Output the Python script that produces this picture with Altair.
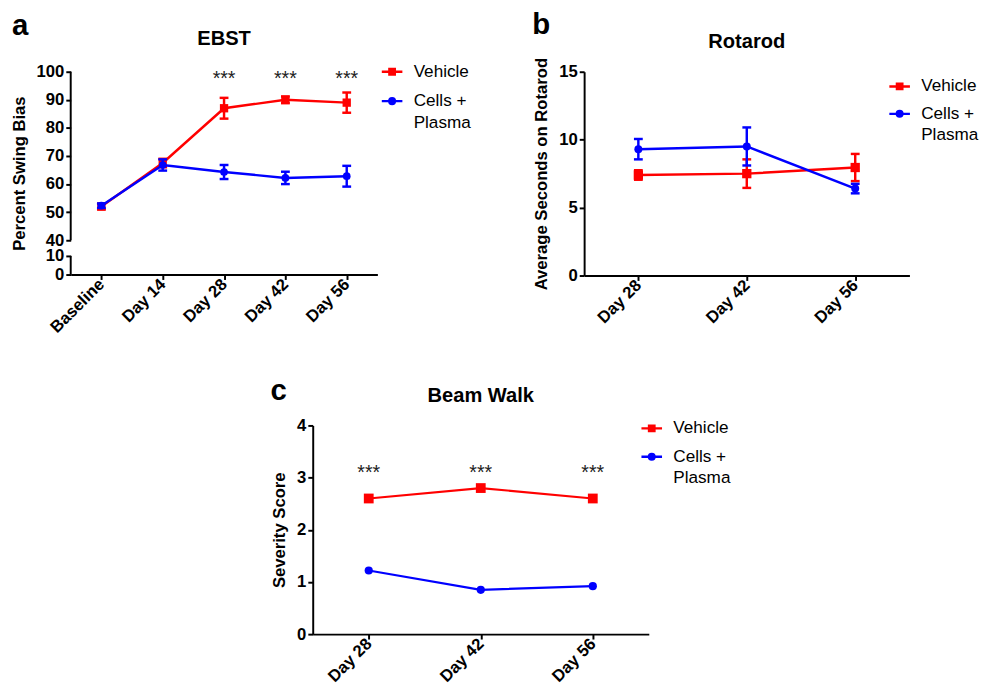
import altair as alt
import pandas as pd

# ---------------- data ----------------
series_names = ["Vehicle", "Cells + Plasma"]
series_colors = ["#ff0000", "#0000ff"]

ebst_days = ["Baseline", "Day 14", "Day 28", "Day 42", "Day 56"]
ebst_vehicle = [52.0, 67.5, 87.0, 90.0, 89.0]
ebst_vehicle_err = [1.0, 1.5, 3.7, 1.2, 3.6]
ebst_cells = [52.3, 66.8, 64.3, 62.2, 62.8]
ebst_cells_err = [0.8, 2.0, 2.5, 2.2, 3.7]
ebst_star_days = ["Day 28", "Day 42", "Day 56"]
ebst_star_level = [98.5, 98.5, 98.5]
ebst_ticks = [0, 10, 40, 50, 60, 70, 80, 90, 100]
ebst_axis_lo = [0, 40]
ebst_axis_hi = [10, 100]

rot_days = ["Day 28", "Day 42", "Day 56"]
rot_vehicle = [7.4, 7.5, 7.95]
rot_vehicle_err = [0.35, 1.05, 1.0]
rot_cells = [9.3, 9.5, 6.4]
rot_cells_err = [0.75, 1.4, 0.35]
rot_ticks = [0, 5, 10, 15]

beam_days = ["Day 28", "Day 42", "Day 56"]
beam_vehicle = [2.6, 2.8, 2.6]
beam_cells = [1.22, 0.85, 0.92]
beam_star_days = ["Day 28", "Day 42", "Day 56"]
beam_star_level = [3.16, 3.16, 3.16]
beam_ticks = [0, 1, 2, 3, 4]

# ---------------- styling ----------------
FONT = "Liberation Sans"
RED, BLUE = series_colors
color_scale = alt.Scale(domain=series_names, range=series_colors)

SQ_PATH = "M-1,0H1M-0.26,-0.26H0.26V0.26H-0.26Z"
CI_PATH = "M-1,0H1M0.27,0A0.27,0.27,0,1,1,-0.27,0A0.27,0.27,0,1,1,0.27,0Z"
shape_scale = alt.Scale(domain=series_names, range=[SQ_PATH, CI_PATH])


def make_legend(lx, ly, row_pad):
    return alt.Legend(
        orient="none", legendX=lx, legendY=ly, title=None,
        labelFont=FONT, labelFontSize=17.5, labelColor="black",
        labelOffset=10, labelLimit=0, rowPadding=row_pad,
        symbolSize=441, symbolStrokeWidth=2.5, symbolOpacity=1,
        labelExpr="datum.value == 'Cells + Plasma' ? ['Cells +', 'Plasma'] : datum.label",
    )


def series_df(days, name, vals, errs=None):
    d = pd.DataFrame({"day": days, "series": name, "mean": vals})
    if errs is not None:
        d["lo"] = [v - e for v, e in zip(vals, errs)]
        d["hi"] = [v + e for v, e in zip(vals, errs)]
    return d


def build_panel(days, series, yscale, ytitle, yticks, width, height, title,
                title_y, letter, letter_pos, legend, star_days, star_level,
                line_w, y_domain=True, segments=None):
    xsc = alt.Scale(type="point", padding=0.5, domain=days)
    xaxis = alt.Axis(title=None, labelAngle=315, labelAlign="right", labelBaseline="middle")
    yaxis = alt.Axis(title=ytitle, values=yticks, domain=y_domain, labelOverlap=False)

    def xenc():
        return alt.X("day:N", sort=days, scale=xsc, axis=xaxis)

    def yenc(field):
        return alt.Y(f"{field}:Q", scale=yscale, axis=yaxis)

    layers = []
    for df, color, shape, size in series:
        base = alt.Chart(df)
        layers.append(base.mark_line(strokeWidth=line_w, color=color).encode(
            x=xenc(), y=yenc("mean")))
        if "lo" in df.columns:
            layers.append(base.mark_rule(strokeWidth=2.5, color=color).encode(
                x=xenc(), y=yenc("lo"), y2="hi"))
            for f in ("lo", "hi"):
                layers.append(base.mark_tick(size=9, thickness=2.5, orient="horizontal",
                                             opacity=1, color=color).encode(
                    x=xenc(), y=yenc(f)))
        layers.append(base.mark_point(filled=True, opacity=1, shape=shape, size=size,
                                      color=color).encode(x=xenc(), y=yenc("mean")))

    if star_days:
        stars = pd.DataFrame({"day": star_days, "level": star_level})
        layers.append(alt.Chart(stars).mark_text(
            text="***", font=FONT, fontSize=20, color="#222222", baseline="middle", dy=3.5
        ).encode(x=xenc(), y=yenc("level")))

    if segments is not None:
        layers.append(alt.Chart(segments).mark_rule(color="black", strokeWidth=2).encode(
            x=alt.value(0), y=yenc("lo"), y2="hi"))

    # legend-only layer (its rows are filtered out): line+marker symbols
    leg_df = pd.DataFrame({"series": series_names})
    layers.append(alt.Chart(leg_df).transform_filter("false").mark_point(
        filled=True, opacity=1, strokeWidth=2.5).encode(
        fill=alt.Fill("series:N", scale=color_scale, legend=legend),
        stroke=alt.Stroke("series:N", scale=color_scale, legend=legend),
        shape=alt.Shape("series:N", scale=shape_scale, legend=legend)))

    one = pd.DataFrame({"k": [0]})
    layers.append(alt.Chart(one).mark_text(
        text=letter, font=FONT, fontSize=30, fontWeight="bold", color="black",
        align="left", baseline="alphabetic"
    ).encode(x=alt.value(letter_pos[0]), y=alt.value(letter_pos[1])))
    layers.append(alt.Chart(one).mark_text(
        text=title, font=FONT, fontSize=20.5, fontWeight="bold", color="black",
        align="center", baseline="alphabetic"
    ).encode(x=alt.value(width / 2), y=alt.value(title_y)))

    return alt.layer(*layers).properties(width=width, height=height)


# ---------------- panel a ----------------
ebst_series = [
    (series_df(ebst_days, "Vehicle", ebst_vehicle, ebst_vehicle_err), RED, "square", 72),
    (series_df(ebst_days, "Cells + Plasma", ebst_cells, ebst_cells_err), BLUE, "circle", 62),
]
ebst_segments = pd.DataFrame({"lo": ebst_axis_lo, "hi": ebst_axis_hi})
panel_a = build_panel(
    ebst_days, ebst_series,
    alt.Scale(domain=[0, 10, 40, 100], range=[207, 188, 172, 0], nice=False, zero=False),
    "Percent Swing Bias", ebst_ticks, 313, 207, "EBST", -27, "a", (-60, -37),
    make_legend(316, -12, 9), ebst_star_days, ebst_star_level, 2.5,
    y_domain=False, segments=ebst_segments)

# ---------------- panel b ----------------
rot_series = [
    (series_df(rot_days, "Vehicle", rot_vehicle, rot_vehicle_err), RED, "square", 90),
    (series_df(rot_days, "Cells + Plasma", rot_cells, rot_cells_err), BLUE, "circle", 66),
]
panel_b = build_panel(
    rot_days, rot_series,
    alt.Scale(domain=[0, 15], nice=False, zero=False),
    "Average Seconds on Rotarod", rot_ticks, 332, 208, "Rotarod", -24, "b", (-53, -39),
    make_legend(310, 3, 7), [], [], 2.5)

# ---------------- panel c ----------------
beam_series = [
    (series_df(beam_days, "Vehicle", beam_vehicle), RED, "square", 100),
    (series_df(beam_days, "Cells + Plasma", beam_cells), BLUE, "circle", 70),
]
panel_c = build_panel(
    beam_days, beam_series,
    alt.Scale(domain=[0, 4], nice=False, zero=False),
    "Severity Score", beam_ticks, 343, 213, "Beam Walk", -24, "c", (-43, -26),
    make_legend(334, -9, 8), beam_star_days, beam_star_level, 2.2)

spacer = alt.Chart(pd.DataFrame({"k": [0]})).mark_point(opacity=0).encode(
    x=alt.value(0), y=alt.value(0)).properties(width=204, height=10)

IND = dict(fill="independent", stroke="independent", shape="independent")

top = alt.hconcat(panel_a, panel_b, spacing=62).resolve_scale(**IND).resolve_legend(**IND)
bottom = alt.hconcat(spacer, panel_c, spacing=0).resolve_scale(**IND).resolve_legend(**IND)

chart = alt.vconcat(top, bottom, spacing=41).resolve_scale(**IND).resolve_legend(**IND).properties(
    padding={"left": 2, "top": -5, "right": 0, "bottom": 0},
    background="white",
).configure(
    style={"guide-label": {"lineHeight": 22}}
).configure_view(stroke=None).configure_axis(
    domainColor="black", domainWidth=2, tickColor="black", tickWidth=2, tickSize=5,
    labelFont=FONT, labelFontSize=17, labelFontWeight="bold", labelColor="black",
    labelPadding=2, titleFont=FONT, titleFontSize=17, titleFontWeight="bold",
    titleColor="black", titlePadding=8, grid=False,
)

chart.save("out.html", embed_options={"renderer": "svg", "actions": False})
